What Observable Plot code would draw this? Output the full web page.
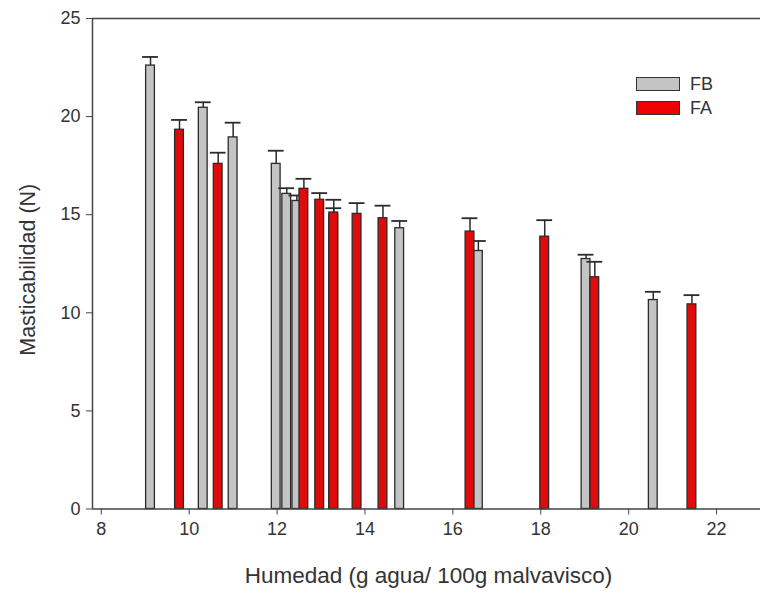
<!DOCTYPE html>
<html>
<head>
<meta charset="utf-8">
<script src="https://cdn.jsdelivr.net/npm/d3@7"></script>
<script src="https://cdn.jsdelivr.net/npm/@observablehq/plot@0.6"></script>
<style>
  body { margin: 0; background: #fff; }
  #chart { position: relative; width: 760px; height: 594px; }
  .legend { position: absolute; left: 636px; top: 72px; font: 18px "Liberation Sans", Arial, sans-serif; color: #333; }
  .legend .row { display: flex; align-items: center; height: 24px; }
  .legend .sw { width: 42px; height: 12px; border: 1.3px solid #333; margin-right: 10px; }
</style>
</head>
<body>
<div id="chart"></div>
<script>
// Humedad (g agua / 100 g malvavisco) and masticabilidad (N), with the upper standard deviation
const fbHumedad = [9.12, 10.32, 11.00, 11.98, 12.22, 12.45, 13.29, 14.79, 16.58, 19.03, 20.56];
const fbMastic  = [22.60, 20.45, 18.94, 17.59, 16.06, 15.70, 15.00, 14.31, 13.15, 12.74, 10.65];
const fbDesv    = [0.44, 0.28, 0.75, 0.67, 0.29, 0.28, 0.33, 0.37, 0.51, 0.22, 0.42];

const faHumedad = [9.78, 10.66, 12.61, 12.97, 13.29, 13.82, 14.41, 16.39, 18.09, 19.23, 21.44];
const faMastic  = [19.33, 17.59, 16.32, 15.76, 15.11, 15.04, 14.82, 14.14, 13.88, 11.81, 10.43];
const faDesv    = [0.50, 0.57, 0.51, 0.34, 0.65, 0.55, 0.64, 0.68, 0.84, 0.79, 0.47];

const xTicks = [8, 10, 12, 14, 16, 18, 20, 22];
const yTicks = [0, 5, 10, 15, 20, 25];

const series = [
  {name: "FB", fill: "#c4c4c4", x: fbHumedad, y: fbMastic, sd: fbDesv},
  {name: "FA", fill: "#e00c0c", x: faHumedad, y: faMastic, sd: faDesv}
];

const halfBar = 0.1;   // half bar width, in humedad units
const halfCap = 0.18;  // half error-cap width

const rows = s => s.x.map((x, i) => ({x, y: s.y[i], top: s.y[i] + s.sd[i]}));

const marks = [
  Plot.ruleY([25], {stroke: "#444", strokeWidth: 1.5}),
  Plot.ruleX([7.8], {stroke: "#444", strokeWidth: 1.5})
];
for (const s of series) {
  const d = rows(s);
  marks.push(
    Plot.rectY(d, {x1: r => r.x - halfBar, x2: r => r.x + halfBar, y: "y", fill: s.fill, stroke: "#2a2a2a", strokeWidth: 1.3}),
    Plot.ruleX(d, {x: "x", y1: "y", y2: "top", stroke: "#2a2a2a", strokeWidth: 1.5}),
    Plot.ruleY(d, {y: "top", x1: r => r.x - halfCap, x2: r => r.x + halfCap, stroke: "#2a2a2a", strokeWidth: 1.8})
  );
}
marks.push(
  Plot.ruleY([0], {stroke: "#444", strokeWidth: 1.5}),
  Plot.axisX({ticks: xTicks, tickSize: 6, tickPadding: 7, label: null, stroke: "#444", fontSize: 18}),
  Plot.axisY({ticks: yTicks, tickSize: 6, tickPadding: 6, label: null, stroke: "#444", fontSize: 18}),
  Plot.text(["Humedad (g agua/ 100g malvavisco)"], {frameAnchor: "bottom", textAnchor: "middle", dx: 2, dy: 74, fontSize: 22.5, fill: "#333"}),
  Plot.text(["Masticabilidad (N)"], {frameAnchor: "left", textAnchor: "middle", dx: -64, dy: 6, rotate: -90, fontSize: 21.5, fill: "#333"})
);

const svg = Plot.plot({
  width: 760,
  height: 594,
  marginLeft: 92,
  marginRight: 0,
  marginTop: 18,
  marginBottom: 85.5,
  x: {domain: [7.8, 23]},
  y: {domain: [0, 25]},
  style: {fontFamily: "'Liberation Sans', Arial, sans-serif", fontSize: "18px", color: "#333", background: "#fff"},
  marks
});

const chart = document.getElementById("chart");
chart.appendChild(svg);

// legend inside the plot area, top right
const legend = document.createElement("div");
legend.className = "legend";
for (const s of series) {
  const row = document.createElement("div");
  row.className = "row";
  const sw = document.createElement("div");
  sw.className = "sw";
  sw.style.background = s.name === "FA" ? "#f00000" : s.fill;
  const label = document.createElement("span");
  label.textContent = s.name;
  row.append(sw, label);
  legend.appendChild(row);
}
chart.appendChild(legend);
</script>
</body>
</html>
